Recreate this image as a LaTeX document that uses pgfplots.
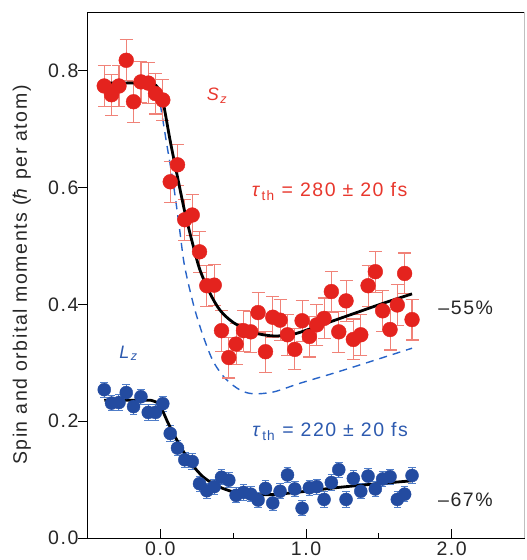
\documentclass[border=0pt]{standalone}
\usepackage{fontspec}
\setmainfont{Liberation Sans}[LetterSpace=8]
\usepackage{pgfplots}
\pgfplotsset{compat=1.18}
\definecolor{sred}{RGB}{228,35,30}
\definecolor{sredbar}{RGB}{240,130,120}
\definecolor{sredtxt}{RGB}{232,55,45}
\definecolor{lblue}{RGB}{35,75,160}
\definecolor{lbluebar}{RGB}{80,125,200}
\definecolor{lbluetxt}{RGB}{45,90,175}
\definecolor{dblue}{RGB}{40,100,200}
\begin{document}
\begin{tikzpicture}
\begin{axis}[
  scale only axis, width=437pt, height=525.6pt,
  at={(0,0)}, anchor=south west,
  xmin=-0.5, xmax=2.5, ymin=0, ymax=0.9,
  axis x line=box, axis y line=left,
  axis line style={line width=0.9pt, -},
  xtick={0,1,2}, minor xtick={0.5,1.5},
  ytick={0,0.2,0.4,0.6,0.8},
  xtick pos=lower, ytick pos=left,
  xtick align=inside, ytick align=outside,
  major tick length=9pt, minor tick length=5pt,
  tick style={line width=0.9pt, black},
  /pgf/number format/assume math mode=true,
  xticklabel style={/pgf/number format/.cd, fixed, precision=1, zerofill},
  yticklabel style={xshift=3.5pt, /pgf/number format/.cd, fixed, precision=1, zerofill},
  tick label style={font=\fontsize{19.5}{22}\selectfont, text=black!85},
  ylabel={Spin and orbital moments (\textit{ħ} per atom)},
  ylabel style={font=\fontsize{19.5}{22}\selectfont, at={(axis description cs:-0.150,0.5)}, anchor=center, rotate=0, text=black!85},
  clip=false,
]
% dashed model curve
\addplot[dblue, line width=1.4pt, dash pattern=on 8pt off 6pt, smooth, tension=0.5] coordinates {
(-0.385,0.778) (-0.10,0.778) (-0.05,0.775) (-0.02,0.762) (0.0,0.742) (0.039,0.682) (0.089,0.607) (0.13,0.533) (0.160,0.475) (0.192,0.436) (0.238,0.390) (0.295,0.345) (0.364,0.302) (0.45,0.272) (0.55,0.253) (0.638,0.247) (0.776,0.250) (0.959,0.265) (1.187,0.282) (1.416,0.300) (1.728,0.325)
};
% S_z data
\addplot[only marks, mark=*, mark size=7.4pt, color=sred, mark options={draw=sred, fill=sred},
  error bars/.cd, y dir=both, y fixed=0.035,
  error bar style={sredbar, line width=1.1pt},
  error mark options={rotate=90, mark size=6.5pt, sredbar, line width=1.1pt}]
coordinates {
(-0.385,0.774) (-0.335,0.759) (-0.284,0.774) (-0.234,0.818) (-0.184,0.747)
(-0.133,0.781) (-0.083,0.779) (-0.033,0.761) (0.017,0.750) (0.068,0.610)
(0.118,0.639) (0.168,0.545) (0.219,0.553) (0.269,0.490) (0.319,0.432)
(0.370,0.433) (0.420,0.355) (0.470,0.309) (0.520,0.332) (0.571,0.355)
(0.621,0.353) (0.671,0.386) (0.722,0.319) (0.772,0.378) (0.822,0.373)
(0.873,0.348) (0.923,0.323) (0.973,0.372) (1.023,0.345) (1.074,0.365)
(1.124,0.376) (1.174,0.422) (1.225,0.353) (1.275,0.406) (1.325,0.340)
(1.376,0.348) (1.426,0.432) (1.476,0.456) (1.526,0.389) (1.577,0.357)
(1.627,0.399) (1.677,0.453) (1.728,0.374)
};
% S_z fit
\addplot[black, line width=2.8pt, smooth, tension=0.5] coordinates {
(-0.385,0.779) (-0.10,0.779) (-0.06,0.778) (-0.03,0.775) (-0.007,0.766) (0.021,0.744) (0.067,0.681) (0.113,0.624) (0.17,0.556) (0.226,0.500) (0.272,0.459) (0.341,0.419) (0.41,0.390) (0.501,0.369) (0.638,0.352) (0.776,0.346) (0.913,0.349) (1.073,0.362) (1.302,0.382) (1.531,0.402) (1.728,0.418)
};
% L_z data
\addplot[only marks, mark=*, mark size=6.5pt, color=lblue, mark options={draw=lblue, fill=lblue},
  error bars/.cd, y dir=both, y fixed=0.013,
  error bar style={lbluebar, line width=1.0pt},
  error mark options={rotate=90, mark size=3.8pt, lbluebar, line width=1.0pt}]
coordinates {
(-0.385,0.254) (-0.335,0.231) (-0.284,0.232) (-0.234,0.249) (-0.184,0.225)
(-0.133,0.242) (-0.083,0.215) (-0.033,0.215) (0.017,0.230) (0.068,0.179)
(0.118,0.154) (0.168,0.134) (0.219,0.131) (0.269,0.093) (0.319,0.081)
(0.370,0.088) (0.420,0.104) (0.470,0.099) (0.520,0.073) (0.571,0.078)
(0.621,0.075) (0.671,0.065) (0.722,0.085) (0.772,0.060) (0.822,0.080)
(0.873,0.108) (0.923,0.084) (0.973,0.051) (1.023,0.086) (1.074,0.088)
(1.124,0.066) (1.174,0.095) (1.225,0.117) (1.275,0.066) (1.325,0.102)
(1.376,0.080) (1.426,0.106) (1.476,0.084) (1.526,0.101) (1.577,0.105)
(1.627,0.066) (1.677,0.075) (1.728,0.107)
};
% L_z fit
\addplot[black, line width=2.8pt, smooth, tension=0.5] coordinates {
(-0.385,0.236) (-0.10,0.236) (-0.06,0.2355) (-0.03,0.233) (0.0,0.226) (0.055,0.196) (0.113,0.168) (0.181,0.139) (0.25,0.116) (0.307,0.102) (0.40,0.088) (0.5,0.079) (0.6,0.075) (0.72,0.074) (0.85,0.076) (1.0,0.080) (1.2,0.086) (1.45,0.092) (1.728,0.098)
};
% right spine (faint)
\draw[black!25, line width=0.8pt] (rel axis cs:1,0) -- (rel axis cs:1,1);
% annotations
\node[anchor=base west, text=sredtxt, font=\fontsize{18}{21}\selectfont, inner sep=0pt] at (axis cs:0.318,0.749) {\textit{S}\textsubscript{\textit{z}}};
\node[anchor=base west, text=sredtxt, font=\fontsize{19.5}{22}\selectfont, inner sep=0pt] at (axis cs:0.627,0.584) {\textit{τ}\textsubscript{th} = 280 ± 20 fs};
\node[anchor=base west, text=lbluetxt, font=\fontsize{18}{21}\selectfont, inner sep=0pt] at (axis cs:-0.283,0.308) {\textit{L}\textsubscript{\textit{z}}};
\node[anchor=base west, text=lbluetxt, font=\fontsize{19.5}{22}\selectfont, inner sep=0pt] at (axis cs:0.631,0.173) {\textit{τ}\textsubscript{th} = 220 ± 20 fs};
\node[anchor=base west, text=black!85, font=\fontsize{19.5}{22}\selectfont, inner sep=0pt] at (axis cs:1.908,0.382) {–55\%};
\node[anchor=base west, text=black!85, font=\fontsize{19.5}{22}\selectfont, inner sep=0pt] at (axis cs:1.906,0.054) {–67\%};
\end{axis}
\pgfresetboundingbox
\useasboundingbox (-87.5pt,-22pt) rectangle (439.5pt,538pt);
\end{tikzpicture}
\end{document}
